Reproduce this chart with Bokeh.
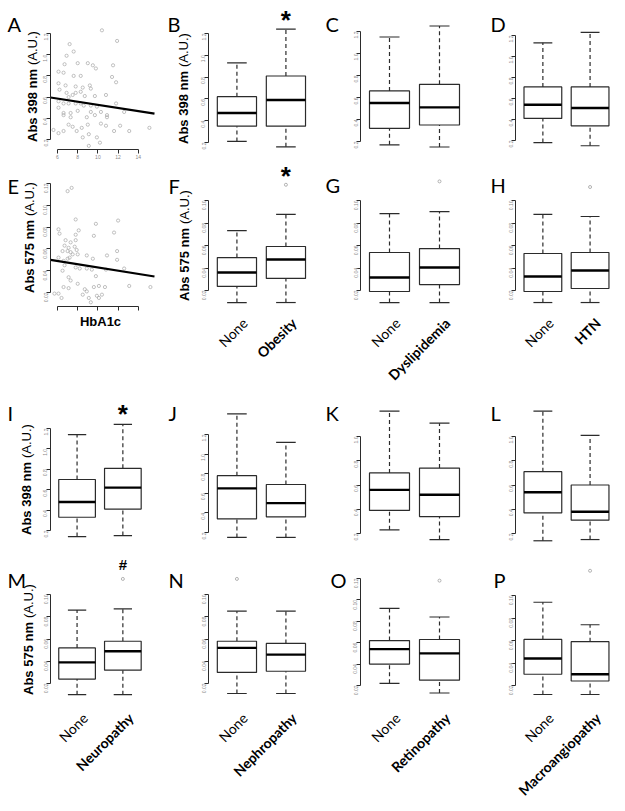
import math
from bokeh.plotting import figure
from bokeh.models import Range1d, FixedTicker, PrintfTickFormatter, Label
from bokeh.layouts import row, column
from bokeh.embed import file_html
from bokeh.resources import INLINE

# ---------------- data ----------------
A_hba1c = [10.4, 11.9, 7.2, 7.6, 6.9, 6.7, 8.0, 9.0, 9.5, 9.8, 11.5, 6.1, 6.6, 7.6, 8.3, 11.4, 11.8, 6.1, 6.8, 7.8,
           8.5, 9.2, 9.3, 6.2, 6.9, 7.5, 7.8, 8.3, 7.1, 8.7, 9.7, 10.8, 6.1, 6.6, 7.1, 7.8, 8.3, 8.6, 9.3, 9.9,
           6.1, 6.6, 7.3, 8.0, 9.3, 9.7, 10.3, 10.9, 11.8, 12.6, 6.6, 7.3, 8.9, 10.9, 7.1, 7.5, 8.4, 9.0, 10.3, 10.8,
           12.2, 13.1, 15.1, 5.6, 6.1, 6.6, 7.9, 8.5, 9.1, 9.9, 10.2, 11.6, 9.1]
A_abs398 = [1.23, 1.13, 1.10, 1.03, 0.99, 0.91, 0.92, 0.92, 0.90, 0.87, 0.90, 0.84, 0.83, 0.80, 0.80, 0.79, 0.74, 0.73, 0.71, 0.70,
            0.69, 0.71, 0.68, 0.67, 0.64, 0.62, 0.64, 0.65, 0.60, 0.61, 0.61, 0.62, 0.56, 0.54, 0.54, 0.54, 0.54, 0.52, 0.52, 0.51,
            0.50, 0.45, 0.45, 0.47, 0.46, 0.43, 0.46, 0.43, 0.54, 0.46, 0.43, 0.41, 0.41, 0.41, 0.34, 0.32, 0.31, 0.34, 0.35, 0.33,
            0.33, 0.28, 0.31, 0.29, 0.26, 0.28, 0.28, 0.22, 0.25, 0.22, 0.17, 0.28, 0.14]
A_fit = [0.674, -0.0147]      # intercept, slope

E_hba1c = [7.0, 7.4, 6.1, 6.2, 7.8, 8.1, 7.8, 9.8, 9.6, 11.6, 12.0, 6.8, 7.3, 7.8, 6.7, 7.1, 7.7, 7.9, 6.5, 7.0,
           7.3, 7.5, 7.2, 8.0, 7.0, 6.6, 6.1, 8.9, 9.5, 10.9, 11.9, 11.9, 6.7, 7.8, 8.2, 8.9, 9.4, 10.8, 9.8, 12.6,
           6.5, 7.1, 7.3, 8.0, 7.1, 6.6, 8.7, 8.9, 9.6, 10.1, 10.7, 10.4, 9.9, 8.5, 9.1, 9.3, 10.1, 13.1, 15.2, 5.7,
           6.1, 6.4]
E_abs575 = [0.113, 0.116, 0.078, 0.074, 0.087, 0.077, 0.073, 0.083, 0.072, 0.075, 0.086, 0.068, 0.066, 0.068, 0.063,
            0.061, 0.062, 0.059, 0.058, 0.058, 0.057, 0.055, 0.052, 0.055, 0.051, 0.049, 0.052, 0.054, 0.051, 0.054,
            0.058, 0.050, 0.045, 0.043, 0.042, 0.042, 0.041, 0.041, 0.035, 0.042, 0.040, 0.034, 0.031, 0.028, 0.024,
            0.025, 0.023, 0.021, 0.025, 0.026, 0.025, 0.018, 0.017, 0.018, 0.015, 0.011, 0.015, 0.026, 0.025, 0.019,
            0.019, 0.015]
E_fit = [0.0579, -0.00149]

HBA1C_TICKS = [6, 8, 10, 12, 14]
TICKS_398_6 = [0.2, 0.4, 0.6, 0.8, 1.0, 1.2]
TICKS_398_5 = [0.2, 0.4, 0.6, 0.8, 1.0]
TICKS_575_6 = [0.02, 0.04, 0.06, 0.08, 0.10, 0.12]
TICKS_575_5 = [0.02, 0.04, 0.06, 0.08, 0.10]

# box statistics: [lower whisker, Q1, median, Q3, upper whisker]
B_groups = ["None", "Obesity"]
B_none = [0.21, 0.35, 0.47, 0.62, 0.93]
B_obesity = [0.16, 0.35, 0.59, 0.81, 1.24]
C_groups = ["None", "Dyslipidemia"]
C_none = [0.17, 0.32, 0.55, 0.66, 1.15]
C_dyslipidemia = [0.15, 0.35, 0.51, 0.72, 1.25]
D_groups = ["None", "HTN"]
D_none = [0.18, 0.41, 0.54, 0.71, 1.13]
D_htn = [0.15, 0.34, 0.51, 0.71, 1.23]

F_none = [0.0093, 0.0236, 0.0360, 0.0493, 0.0733]
F_obesity = [0.0093, 0.0307, 0.0476, 0.0591, 0.0876]
F_outliers = [[], [0.114]]
G_none = [0.0093, 0.0191, 0.0316, 0.0538, 0.0884]
G_dyslipidemia = [0.0093, 0.0253, 0.0404, 0.0573, 0.0902]
G_outliers = [[], [0.117]]
H_none = [0.0093, 0.0191, 0.0324, 0.0529, 0.0876]
H_htn = [0.0093, 0.0218, 0.0378, 0.0538, 0.0858]
H_outliers = [[], [0.112]]

I_groups = ["None", "Neuropathy"]
I_none = [0.14, 0.33, 0.48, 0.70, 1.14]
I_neuropathy = [0.15, 0.41, 0.62, 0.81, 1.24]
J_groups = ["None", "Nephropathy"]
J_none = [0.15, 0.34, 0.65, 0.78, 1.41]
J_nephropathy = [0.15, 0.36, 0.50, 0.69, 1.12]
K_groups = ["None", "Retinopathy"]
K_none = [0.23, 0.39, 0.56, 0.70, 1.21]
K_retinopathy = [0.15, 0.34, 0.52, 0.74, 1.11]
L_groups = ["None", "Macroangiopathy"]
L_none = [0.14, 0.37, 0.54, 0.71, 1.21]
L_macroangiopathy = [0.15, 0.31, 0.38, 0.60, 1.01]

M_none = [0.010, 0.024, 0.039, 0.052, 0.086]
M_neuropathy = [0.010, 0.032, 0.049, 0.058, 0.087]
M_outliers = [[], [0.114]]
N_none = [0.011, 0.030, 0.052, 0.058, 0.085]
N_nephropathy = [0.011, 0.031, 0.046, 0.056, 0.085]
N_outliers = [[0.114], []]
O_none = [0.022, 0.040, 0.054, 0.062, 0.092]
O_retinopathy = [0.013, 0.025, 0.050, 0.063, 0.084]
O_outliers = [[], [0.118]]
P_none = [0.012, 0.030, 0.044, 0.061, 0.094]
P_macroangiopathy = [0.012, 0.024, 0.030, 0.059, 0.074]
P_outliers = [[], [0.122]]

# ---------------- layout (page pixels) ----------------
COL_BOUNDS = [(0, 158), (158, 314), (314, 468), (468, 624)]
AXIS_X = [50, 208, 360, 515]          # page x of each column's y axis
BOX_PPU = [45.8, 49.0, 50.0, 47.2]    # px per category step
SC_X6, SC_PPU, SC_RIGHT = 57, 10.1, 154   # scatter: page x of HbA1c=6, px per unit, line end
ROW_BOUNDS = [(0, 160), (160, 394), (394, 545), (545, 809)]
SC_XAXIS_Y = {0: 149, 1: 306}
TICK_PX = {"A": (33, 139), "B": (33, 142), "C": (31, 141), "D": (35, 140),
           "E": (183, 292), "F": (200, 290), "G": (200, 290), "H": (200, 290),
           "I": (428, 530), "J": (434, 532), "K": (436, 533), "L": (436, 533),
           "M": (594, 683), "N": (594, 683), "O": (578, 685), "P": (595, 685)}
LETTER_POS = {"A": (7, 23), "B": (167, 23), "C": (325, 23), "D": (490, 23),
              "E": (7, 185), "F": (168, 185), "G": (325, 184), "H": (490, 184),
              "I": (7, 412), "J": (168, 412), "K": (325, 412), "L": (490, 412),
              "M": (7, 579), "N": (168, 579), "O": (330, 579), "P": (493, 579)}
YLABEL_POS = {"A": (32, 86), "B": (183, 88), "E": (29, 237), "F": (184, 245),
              "I": (26, 479), "M": (28, 639)}
XLABEL_Y = {1: 320, 3: 715}
MARK_POS = {"B": ("*", 19), "F": ("*", 175), "I": ("*", 413), "M": ("#", 564)}

INK = "#2b2b2b"
SANS = "Liberation Sans"
CAL = "Lato"


def yrange(ticks, px, rt, rb):
    ppu = (px[1] - px[0]) / (ticks[-1] - ticks[0])
    return Range1d(ticks[0] - (rb - px[1]) / ppu, ticks[-1] + (px[0] - rt) / ppu)


def y_at(ticks, px, page_y):
    ppu = (px[1] - px[0]) / (ticks[-1] - ticks[0])
    return ticks[0] + (px[1] - page_y) / ppu


def base_fig(r, c, xr, yr, scatter=False):
    cl, cr = COL_BOUNDS[c]
    rt, rb = ROW_BOUNDS[r]
    p = figure(width=cr - cl, height=rb - rt, x_range=xr, y_range=yr,
               output_backend="svg", toolbar_location=None,
               x_axis_location="below" if scatter else None, y_axis_location="left",
               min_border=0, min_border_left=0, min_border_right=0, min_border_top=0, min_border_bottom=0)
    p.grid.visible = False
    p.outline_line_color = None
    p.background_fill_color = "white"
    p.border_fill_color = "white"
    return p


def style_axis(ax, ticks, fmt, orient, loc):
    ax.fixed_location = loc
    ax.ticker = FixedTicker(ticks=ticks)
    ax.bounds = (ticks[0], ticks[-1])
    ax.formatter = PrintfTickFormatter(format=fmt)
    ax.major_label_orientation = orient
    ax.major_label_text_font = SANS
    ax.major_label_text_font_size = "5px"
    ax.major_label_text_color = "#8a8a8a"
    ax.major_label_standoff = 1
    ax.major_tick_out = 4
    ax.major_tick_in = 0
    ax.minor_tick_line_color = None
    ax.axis_line_color = INK
    ax.major_tick_line_color = INK
    ax.axis_line_width = 1
    ax.major_tick_line_width = 1


def page_label(p, r, c, text, x, y, **kw):
    p.add_layout(Label(x=x - COL_BOUNDS[c][0], y=ROW_BOUNDS[r][1] - y, x_units="screen", y_units="screen",
                       text=text, **kw))


def add_letter(p, r, c, letter):
    x, y = LETTER_POS[letter]
    page_label(p, r, c, letter, x, y, text_font=CAL, text_font_size="20px", text_color="black",
               text_align="left", text_baseline="alphabetic")


def add_ylabel(p, r, c, letter, nm):
    cx, cy = YLABEL_POS[letter]
    split = cy + 55.5 - 73
    page_label(p, r, c, "Abs %s nm" % nm, cx, split, angle=math.pi / 2, text_font=SANS,
               text_font_size="13px", text_font_style="bold", text_align="right", text_baseline="middle",
               text_color="black")
    page_label(p, r, c, "(A.U.)", cx, split - 4, angle=math.pi / 2, text_font=SANS,
               text_font_size="13px", text_align="left", text_baseline="middle", text_color="black")


def scatter_panel(letter, r, xs, ys, fit, ticks, fmt, nm, show_xlabels):
    cl, cr = COL_BOUNDS[0]
    rt, rb = ROW_BOUNDS[r]
    x_start = 6 - (SC_X6 - cl) / SC_PPU
    xr = Range1d(x_start, x_start + (cr - cl) / SC_PPU)
    p = base_fig(r, 0, xr, yrange(ticks, TICK_PX[letter], rt, rb), scatter=True)
    x_axis_val = 6 - (SC_X6 - AXIS_X[0]) / SC_PPU
    x_end_val = 6 + (SC_RIGHT - SC_X6) / SC_PPU
    style_axis(p.yaxis[0], ticks, fmt, math.pi / 2, x_axis_val)
    style_axis(p.xaxis[0], HBA1C_TICKS, "%d", "horizontal", y_at(ticks, TICK_PX[letter], SC_XAXIS_Y[r]))
    if not show_xlabels:
        p.xaxis[0].major_label_text_color = None
    p.scatter(xs, ys, size=3.2, marker="circle", fill_color=None, line_color="#a6a6a6", line_width=0.7)
    lx = [x_axis_val, x_end_val]
    p.line(lx, [fit[0] + fit[1] * v for v in lx], line_color="black", line_width=2.2)
    add_letter(p, r, 0, letter)
    add_ylabel(p, r, 0, letter, nm)
    return p


def box_panel(letter, r, c, groups, stats, outliers, ticks, fmt, nm=None, xlabels=False):
    cl, cr = COL_BOUNDS[c]
    rt, rb = ROW_BOUNDS[r]
    ppu = BOX_PPU[c]
    x_start = 0.42 - (AXIS_X[c] - cl) / ppu
    p = base_fig(r, c, Range1d(x_start, x_start + (cr - cl) / ppu), yrange(ticks, TICK_PX[letter], rt, rb))
    style_axis(p.yaxis[0], ticks, fmt, math.pi / 2, 0.42)
    xs = [1, 2]
    lo = [s[0] for s in stats]
    q1 = [s[1] for s in stats]
    md = [s[2] for s in stats]
    q3 = [s[3] for s in stats]
    hi = [s[4] for s in stats]
    p.segment(x0=xs + xs, y0=q3 + lo, x1=xs + xs, y1=hi + q1, line_color=INK, line_width=1.2, line_dash="4 3")
    p.segment(x0=[x - 0.2 for x in xs + xs], x1=[x + 0.2 for x in xs + xs], y0=hi + lo, y1=hi + lo,
              line_color=INK, line_width=1.2)
    p.quad(left=[x - 0.4 for x in xs], right=[x + 0.4 for x in xs], bottom=q1, top=q3,
           fill_color="white", line_color=INK, line_width=1.2)
    p.segment(x0=[x - 0.4 for x in xs], x1=[x + 0.4 for x in xs], y0=md, y1=md, line_color="black", line_width=2.4)
    ox, oy = [], []
    for x, outs in zip(xs, outliers):
        for v in outs:
            ox.append(x)
            oy.append(v)
    if ox:
        p.scatter(ox, oy, size=3, marker="circle", fill_color=None, line_color="#a0a0a0", line_width=0.8)
    add_letter(p, r, c, letter)
    if nm:
        add_ylabel(p, r, c, letter, nm)
    if letter in MARK_POS:
        mark, base = MARK_POS[letter]
        p.add_layout(Label(x=2, x_units="data", y=rb - base, y_units="screen", text=mark,
                           text_font=SANS, text_font_style="bold",
                           text_font_size="26px" if mark == "*" else "15px",
                           text_align="center", text_baseline="middle", text_color="black"))
    if xlabels:
        for x, g in zip(xs, groups):
            p.add_layout(Label(x=x, x_units="data", y=rb - XLABEL_Y[r], y_units="screen", x_offset=8,
                               text=g, angle=math.pi / 4, text_align="right", text_baseline="middle",
                               text_font=CAL, text_font_size="14px",
                               text_font_style="normal" if g == "None" else "bold", text_color="black"))
    return p


pA = scatter_panel("A", 0, A_hba1c, A_abs398, A_fit, TICKS_398_6, "%.1f", "398", True)
pB = box_panel("B", 0, 1, B_groups, [B_none, B_obesity], [[], []], TICKS_398_6, "%.1f", nm="398")
pC = box_panel("C", 0, 2, C_groups, [C_none, C_dyslipidemia], [[], []], TICKS_398_6, "%.1f")
pD = box_panel("D", 0, 3, D_groups, [D_none, D_htn], [[], []], TICKS_398_6, "%.1f")

pE = scatter_panel("E", 1, E_hba1c, E_abs575, E_fit, TICKS_575_6, "%.2f", "575", False)
page_label(pE, 1, 0, "HbA1c", 100, 321, text_font=SANS, text_font_size="13px", text_font_style="bold",
           text_align="center", text_baseline="middle", text_color="black")
pF = box_panel("F", 1, 1, B_groups, [F_none, F_obesity], F_outliers, TICKS_575_5, "%.2f", nm="575", xlabels=True)
pG = box_panel("G", 1, 2, C_groups, [G_none, G_dyslipidemia], G_outliers, TICKS_575_5, "%.2f", xlabels=True)
pH = box_panel("H", 1, 3, D_groups, [H_none, H_htn], H_outliers, TICKS_575_5, "%.2f", xlabels=True)

pI = box_panel("I", 2, 0, I_groups, [I_none, I_neuropathy], [[], []], TICKS_398_6, "%.1f", nm="398")
pJ = box_panel("J", 2, 1, J_groups, [J_none, J_nephropathy], [[], []], TICKS_398_6, "%.1f")
pK = box_panel("K", 2, 2, K_groups, [K_none, K_retinopathy], [[], []], TICKS_398_5, "%.1f")
pL = box_panel("L", 2, 3, L_groups, [L_none, L_macroangiopathy], [[], []], TICKS_398_5, "%.1f")

pM = box_panel("M", 3, 0, I_groups, [M_none, M_neuropathy], M_outliers, TICKS_575_5, "%.2f", nm="575", xlabels=True)
pN = box_panel("N", 3, 1, J_groups, [N_none, N_nephropathy], N_outliers, TICKS_575_5, "%.2f", xlabels=True)
pO = box_panel("O", 3, 2, K_groups, [O_none, O_retinopathy], O_outliers, TICKS_575_6, "%.2f", xlabels=True)
pP = box_panel("P", 3, 3, L_groups, [P_none, P_macroangiopathy], P_outliers, TICKS_575_5, "%.2f", xlabels=True)

layout = column(row(pA, pB, pC, pD, spacing=0), row(pE, pF, pG, pH, spacing=0),
                row(pI, pJ, pK, pL, spacing=0), row(pM, pN, pO, pP, spacing=0), spacing=0)

open("out.html", "w").write(file_html(layout, INLINE))
